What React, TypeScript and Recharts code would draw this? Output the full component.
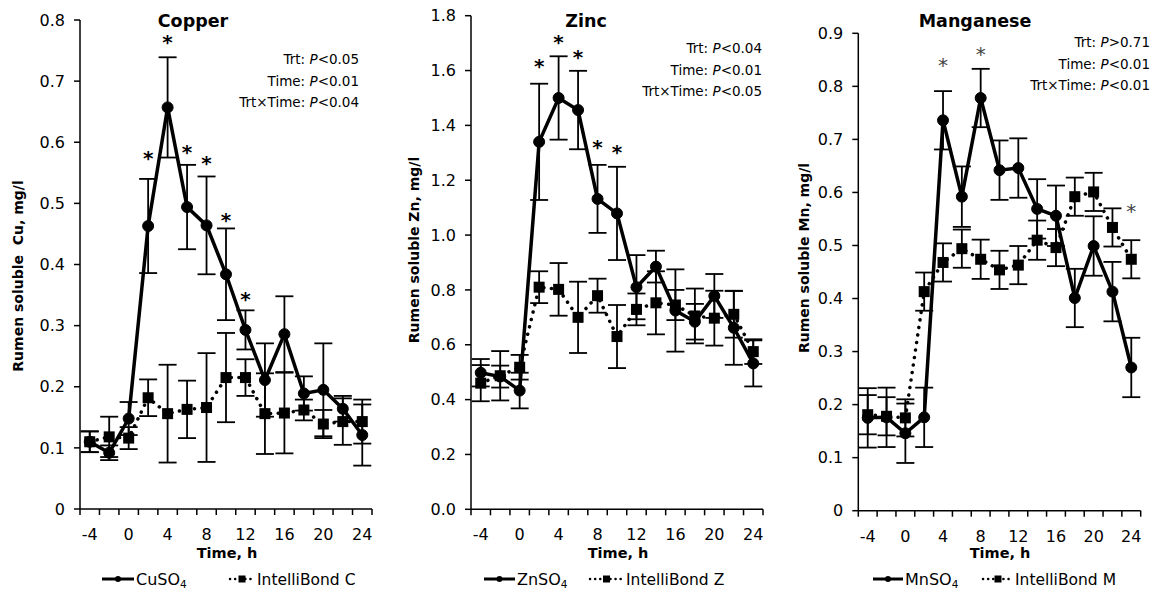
import React from 'react';
import { ComposedChart, Line, Scatter, XAxis, YAxis, ErrorBar } from 'recharts';

const FONT = '"DejaVu Sans", Verdana, sans-serif';

// sampling times (h relative to feeding)
const hours = [-4, -2, 0, 2, 4, 6, 8, 10, 12, 14, 16, 18, 20, 22, 24];
const hourLabels = [-4, 0, 4, 8, 12, 16, 20, 24];

// Copper
const cuSO4 = [0.11, 0.092, 0.148, 0.463, 0.657, 0.494, 0.464, 0.384, 0.293, 0.211, 0.286, 0.189, 0.195, 0.164, 0.121];
const cuSO4Se = [0.017, 0.012, 0.027, 0.077, 0.082, 0.069, 0.08, 0.075, 0.032, 0.06, 0.062, 0.028, 0.076, 0.021, 0.05];
const cuIB = [0.11, 0.118, 0.116, 0.182, 0.156, 0.163, 0.166, 0.215, 0.215, 0.156, 0.157, 0.162, 0.139, 0.143, 0.143];
const cuIBSe = [0.017, 0.033, 0.018, 0.03, 0.08, 0.047, 0.089, 0.073, 0.03, 0.066, 0.066, 0.017, 0.023, 0.038, 0.036];
const cuStarHours = [2, 4, 6, 8, 10, 12];
const cuStarY = [0.58, 0.771, 0.59, 0.573, 0.48, 0.35];

// Zinc
const znSO4 = [0.498, 0.484, 0.433, 1.34, 1.5, 1.456, 1.132, 1.079, 0.81, 0.885, 0.725, 0.684, 0.778, 0.662, 0.532];
const znSO4Se = [0.05, 0.04, 0.065, 0.212, 0.152, 0.143, 0.124, 0.17, 0.117, 0.058, 0.15, 0.065, 0.08, 0.135, 0.084];
const znIB = [0.46, 0.487, 0.518, 0.81, 0.802, 0.7, 0.779, 0.63, 0.729, 0.753, 0.745, 0.705, 0.697, 0.711, 0.575];
const znIBSe = [0.066, 0.09, 0.045, 0.058, 0.096, 0.13, 0.062, 0.115, 0.058, 0.115, 0.055, 0.1, 0.1, 0.085, 0.045];
const znStarHours = [2, 4, 6, 8, 10];
const znStarY = [1.632, 1.718, 1.663, 1.337, 1.319];

// Manganese
const mnSO4 = [0.175, 0.176, 0.146, 0.176, 0.736, 0.592, 0.778, 0.642, 0.646, 0.569, 0.556, 0.401, 0.499, 0.413, 0.27];
const mnSO4Se = [0.056, 0.056, 0.056, 0.056, 0.055, 0.057, 0.055, 0.056, 0.056, 0.056, 0.057, 0.055, 0.056, 0.056, 0.056];
const mnIB = [0.181, 0.178, 0.175, 0.413, 0.468, 0.494, 0.474, 0.454, 0.463, 0.51, 0.496, 0.592, 0.601, 0.534, 0.474];
const mnIBSe = [0.037, 0.036, 0.035, 0.036, 0.036, 0.036, 0.037, 0.036, 0.036, 0.037, 0.035, 0.036, 0.036, 0.036, 0.036];
const mnStarHours = [4, 8, 24];
const mnStarY = [0.847, 0.869, 0.573];

const cuTicks = [0, 0.1, 0.2, 0.3, 0.4, 0.5, 0.6, 0.7, 0.8];
const znTicks = [0, 0.2, 0.4, 0.6, 0.8, 1.0, 1.2, 1.4, 1.6, 1.8];
const mnTicks = [0, 0.1, 0.2, 0.3, 0.4, 0.5, 0.6, 0.7, 0.8, 0.9];

// category boundaries get tick marks, every other category gets a label
const tickBounds = [...hours.map((h) => h - 1), hours[hours.length - 1] + 1];
const xTicks = [...tickBounds, ...hourLabels].sort((a, b) => a - b);

const XTick = (props: any) => {
  const { x, y, payload } = props;
  const v = payload.value;
  return (
    <g>
      {tickBounds.includes(v) && <line x1={x} x2={x} y1={y} y2={y + 6} stroke="#000" strokeWidth={1.5} />}
      {hourLabels.includes(v) && (
        <text x={x} y={y + 31} textAnchor="middle" fontSize={16} fontFamily={FONT} fill="#000">
          {v}
        </text>
      )}
    </g>
  );
};

const square = (p: any) => (
  <rect key={`sq-${p.index}`} x={p.cx - 5.5} y={p.cy - 5.5} width={11} height={11} fill="#000" />
);

const XAXIS_H = 40;

type PanelProps = {
  left: number;
  width: number;
  plot: [number, number, number, number]; // left, right, top, bottom (panel coords)
  a: number[];
  aSe: number[];
  b: number[];
  bSe: number[];
  starHours: number[];
  starY: number[];
  starBold: boolean;
  yTicks: number[];
  zeroLabel: string;
};

function Panel({ left, width, plot, a, aSe, b, bSe, starHours, starY, starBold, yTicks, zeroLabel }: PanelProps) {
  const rows = hours.map((t, i) => ({ t, a: a[i], aErr: aSe[i], b: b[i], bErr: bSe[i] }));
  const stars = starHours.map((t, i) => ({ t, s: starY[i] }));
  const [pl, pr, pt, pb] = plot;
  const star = (p: any) => (
    <text
      key={`st-${p.index}`}
      x={p.cx}
      y={p.cy + 11}
      textAnchor="middle"
      fontSize={20}
      fontWeight={starBold ? 'bold' : 'normal'}
      fontFamily={FONT}
      fill={starBold ? '#000' : '#444'}
    >
      *
    </text>
  );
  return (
    <div style={{ position: 'absolute', left, top: 0 }}>
      <ComposedChart
        width={width}
        height={590}
        data={rows}
        margin={{ top: pt, left: pl - 60, right: width - pr, bottom: 590 - pb - XAXIS_H }}
      >
        <XAxis
          dataKey="t"
          type="number"
          domain={[-5, 25]}
          ticks={xTicks}
          interval={0}
          tick={<XTick />}
          tickLine={false}
          tickSize={0}
          tickMargin={0}
          height={XAXIS_H}
          axisLine={{ stroke: '#000', strokeWidth: 1.5 }}
        />
        <YAxis
          type="number"
          domain={[0, yTicks[yTicks.length - 1]]}
          ticks={yTicks}
          interval={0}
          width={60}
          tickSize={6}
          tickMargin={9}
          axisLine={{ stroke: '#000', strokeWidth: 1.5 }}
          tickLine={{ stroke: '#000', strokeWidth: 1.5 }}
          tick={{ fill: '#000', fontSize: 16, fontFamily: FONT }}
          tickFormatter={(v: number) => (v === 0 ? zeroLabel : v.toFixed(1))}
        />
        <Line
          dataKey="b"
          stroke="#000"
          strokeWidth={3.5}
          strokeDasharray="0.1 7.5"
          strokeLinecap="round"
          dot={square}
          activeDot={false}
          isAnimationActive={false}
        >
          <ErrorBar dataKey="bErr" direction="y" width={9} stroke="#000" strokeWidth={1.8} />
        </Line>
        <Line
          dataKey="a"
          stroke="#000"
          strokeWidth={3.5}
          dot={{ r: 5.5, fill: '#000', stroke: '#000', strokeWidth: 1 }}
          activeDot={false}
          isAnimationActive={false}
        >
          <ErrorBar dataKey="aErr" direction="y" width={9} stroke="#000" strokeWidth={1.8} />
        </Line>
        <Scatter data={stars} dataKey="s" shape={star} isAnimationActive={false} />
      </ComposedChart>
    </div>
  );
}

type Overlay = {
  title: string;
  titleX: number;
  stats: [string, string][];
  statsX: number;
  statsY: number;
  yLabel: string;
  yLabelX: number;
  yLabelY: number;
  xLabelX: number;
  salt: string;
  brand: string;
  legX: [number, number, number, number, number, number]; // solid from/to, salt text, dotted from/to, brand text
};

const overlays: Overlay[] = [
  {
    title: 'Copper', titleX: 193,
    stats: [['Trt: ', '<0.05'], ['Time: ', '<0.01'], ['Trt×Time: ', '<0.04']], statsX: 359, statsY: 64,
    yLabel: 'Rumen soluble \u00a0Cu, mg/l', yLabelX: 18, yLabelY: 276, xLabelX: 227,
    salt: 'CuSO', brand: 'IntelliBond C', legX: [102, 134, 136, 230, 254, 257],
  },
  {
    title: 'Zinc', titleX: 586,
    stats: [['Trt: ', '<0.04'], ['Time: ', '<0.01'], ['Trt×Time: ', '<0.05']], statsX: 762, statsY: 53,
    yLabel: 'Rumen soluble Zn, mg/l', yLabelX: 414, yLabelY: 250, xLabelX: 618,
    salt: 'ZnSO', brand: 'IntelliBond Z', legX: [484, 515, 517, 590, 623, 626],
  },
  {
    title: 'Manganese', titleX: 975,
    stats: [['Trt: ', '>0.71'], ['Time: ', '<0.01'], ['Trt×Time: ', '<0.01']], statsX: 1150, statsY: 47,
    yLabel: 'Rumen soluble Mn, mg/l', yLabelX: 804, yLabelY: 258, xLabelX: 1000,
    salt: 'MnSO', brand: 'IntelliBond M', legX: [873, 903, 905, 983, 1013, 1015],
  },
];

function Texts() {
  return (
    <svg
      width={1156}
      height={590}
      style={{ position: 'absolute', left: 0, top: 0, pointerEvents: 'none' }}
      fontFamily={FONT}
      fill="#000"
    >
      {overlays.map((o) => {
        const [s0, s1, st, d0, d1, dt] = o.legX;
        const ly = 579;
        return (
          <g key={o.title}>
            <text x={o.titleX} y={27} textAnchor="middle" fontSize={17.5} fontWeight="bold">
              {o.title}
            </text>
            {o.stats.map(([k, v], i) => (
              <text key={k} x={o.statsX} y={o.statsY + i * 21.5} textAnchor="end" fontSize={13.5}>
                {k}
                <tspan fontStyle="italic">P</tspan>
                {v}
              </text>
            ))}
            <text
              transform={`translate(${o.yLabelX + 5},${o.yLabelY}) rotate(-90)`}
              textAnchor="middle"
              fontSize={14}
              fontWeight="bold"
            >
              {o.yLabel}
            </text>
            <text x={o.xLabelX} y={558} textAnchor="middle" fontSize={14.5} fontWeight="bold">
              Time, h
            </text>
            <line x1={s0} x2={s1} y1={ly} y2={ly} stroke="#000" strokeWidth={3} />
            <circle cx={(s0 + s1) / 2} cy={ly} r={3} fill="#000" />
            <text x={st} y={ly + 6} fontSize={16}>
              {o.salt}
              <tspan fontSize={10.5} dy={2.5}>4</tspan>
            </text>
            <line
              x1={d0}
              x2={d1}
              y1={ly}
              y2={ly}
              stroke="#000"
              strokeWidth={2.5}
              strokeDasharray="0.1 5"
              strokeLinecap="round"
            />
            <rect x={(d0 + d1) / 2 - 3.5} y={ly - 3.5} width={7} height={7} fill="#000" />
            <text x={dt} y={ly + 6} fontSize={15.5}>
              {o.brand}
            </text>
          </g>
        );
      })}
    </svg>
  );
}

export default function App() {
  return (
    <div style={{ position: 'absolute', left: 0, top: 0, width: 1156, height: 590, background: '#fff' }}>
      <Panel
        left={0}
        width={390}
        plot={[80, 372, 20, 509]}
        a={cuSO4}
        aSe={cuSO4Se}
        b={cuIB}
        bSe={cuIBSe}
        starHours={cuStarHours}
        starY={cuStarY}
        starBold
        yTicks={cuTicks}
        zeroLabel="0"
      />
      <Panel
        left={390}
        width={390}
        plot={[81, 373, 15.7, 509.3]}
        a={znSO4}
        aSe={znSO4Se}
        b={znIB}
        bSe={znIBSe}
        starHours={znStarHours}
        starY={znStarY}
        starBold
        yTicks={znTicks}
        zeroLabel="0.0"
      />
      <Panel
        left={770}
        width={386}
        plot={[88.3, 370.7, 33.3, 510.7]}
        a={mnSO4}
        aSe={mnSO4Se}
        b={mnIB}
        bSe={mnIBSe}
        starHours={mnStarHours}
        starY={mnStarY}
        starBold={false}
        yTicks={mnTicks}
        zeroLabel="0"
      />
      <Texts />
    </div>
  );
}
